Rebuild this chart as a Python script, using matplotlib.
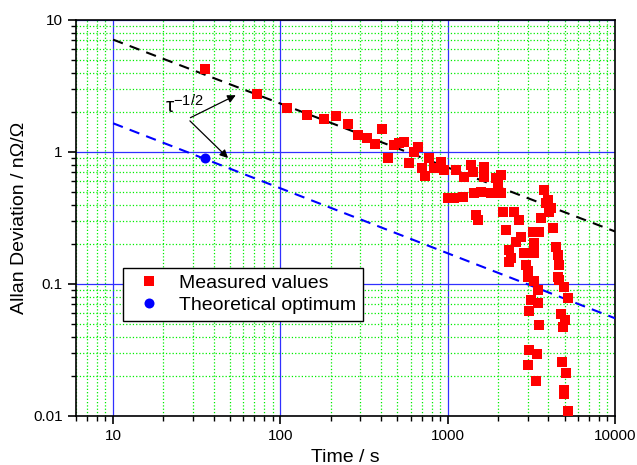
import matplotlib
matplotlib.use("Agg")
import matplotlib.pyplot as plt
from matplotlib.ticker import LogLocator, FuncFormatter, NullFormatter
import numpy as np

plt.rcParams['font.family'] = ['Liberation Sans', 'DejaVu Sans']

# measured Allan deviation (time in s, deviation in nOhm/Ohm)
meas_t = [35.6, 72.8, 110, 145, 181, 216, 255, 289, 327, 366, 403, 437, 475, 509, 546,
          584, 626, 661, 699, 728, 769, 824, 908, 946, 1117, 1247, 1374, 1413, 1644, 1644,
          1938, 1992, 2076, 1808, 1577, 1432, 1230, 1086, 1000, 1472, 1514, 2076, 2134, 2224,
          2484, 2662, 2737, 2317, 2553, 2384, 2317, 2931, 2851, 3274, 3228, 3508, 3274, 3605,
          3758, 3864, 4027, 4255, 4437, 3972, 4141, 4561, 4625, 4625, 3013, 3000, 3274, 3458,
          3141, 3458, 3055, 3508, 4954, 5234, 4753, 5023, 4888, 3055, 3411, 3013, 3365, 4818,
          5092, 4953, 4953, 5234, 4561]
meas_dev = [4.25, 2.75, 2.15, 1.91, 1.78, 1.87, 1.63, 1.35, 1.28, 1.15, 1.49, 0.90, 1.13, 1.17, 1.19,
            0.83, 1.00, 1.09, 0.76, 0.66, 0.90, 0.76, 0.84, 0.73, 0.73, 0.647, 0.80, 0.705, 0.77, 0.647,
            0.635, 0.58, 0.49, 0.49, 0.50, 0.49, 0.456, 0.45, 0.45, 0.334, 0.305, 0.67, 0.351, 0.256,
            0.351, 0.305, 0.227, 0.181, 0.208, 0.157, 0.147, 0.139, 0.172, 0.172, 0.248, 0.248, 0.204, 0.316,
            0.515, 0.41, 0.351, 0.266, 0.191, 0.433, 0.377, 0.166, 0.139, 0.107, 0.125, 0.113, 0.105, 0.090,
            0.076, 0.072, 0.062, 0.049, 0.095, 0.078, 0.059, 0.053, 0.047, 0.0316, 0.0295, 0.0243, 0.0184, 0.0257,
            0.0212, 0.0158, 0.0148, 0.011, 0.113]

# theoretical optimum
opt_t = [35.6]
opt_dev = [0.90]

# tau^-1/2 guide lines
ref_t = [10, 10000]
ref_black = [7.1, 0.25]
ref_blue = [1.65, 0.055]

fig = plt.figure(figsize=(6.37, 4.65), dpi=100)
ax = fig.add_axes([0.1193, 0.1054, 0.8462, 0.8516])
ax.set_xscale('log')
ax.set_yscale('log')
ax.set_xlim(6, 10000)
ax.set_ylim(0.01, 10)

ax.grid(True, which='major', color='#3030ff', linestyle='-', linewidth=0.9)
ax.grid(True, which='minor', color='#00ee00', linestyle=':', linewidth=0.9)
ax.set_axisbelow(True)

ax.plot(ref_t, ref_black, color='black', linestyle=(0, (5, 3.5)), linewidth=1.5, zorder=3)
ax.plot(ref_t, ref_blue, color='#0000ff', linestyle=(0, (5, 3.5)), linewidth=1.5, zorder=3)

ax.plot(meas_t, meas_dev, 's', color='#ff0000', markersize=7.2, markeredgewidth=0,
        label='Measured values', zorder=4)
ax.plot(opt_t, opt_dev, 'o', color='#0000ff', markersize=7.2, markeredgewidth=0,
        label='Theoretical optimum', zorder=4)

# annotation with two arrows
ax.text(20.3, 1.97, r'$\mathregular{\tau^{-1/2}}$', fontsize=15)
ax.annotate('', xy=(56, 2.75), xytext=(28, 1.78),
            arrowprops=dict(arrowstyle='-|>', color='black', linewidth=0.9, mutation_scale=12))
ax.annotate('', xy=(50, 0.87), xytext=(28, 1.78),
            arrowprops=dict(arrowstyle='-|>', color='black', linewidth=0.9, mutation_scale=12))

fmt = FuncFormatter(lambda v, p: '%g' % v)
ax.xaxis.set_major_formatter(fmt)
ax.yaxis.set_major_formatter(fmt)
ax.xaxis.set_minor_formatter(NullFormatter())
ax.yaxis.set_minor_formatter(NullFormatter())
ax.xaxis.set_minor_locator(LogLocator(base=10, subs=np.arange(2, 10), numticks=20))
ax.yaxis.set_minor_locator(LogLocator(base=10, subs=np.arange(2, 10), numticks=20))

ax.tick_params(which='major', direction='out', length=6, width=1.2, labelsize=11)
ax.tick_params(which='minor', direction='out', length=3.5, width=1.0)
for s in ax.spines.values():
    s.set_linewidth(1.2)

ax.set_xlabel('Time / s', fontsize=14)
ax.set_ylabel('Allan Deviation / nΩ/Ω', fontsize=14)

leg = ax.legend(loc='upper left', bbox_to_anchor=(0.087, 0.374), borderaxespad=0,
                fontsize=14, frameon=True, fancybox=False, edgecolor='black', framealpha=1,
                handlelength=2.0, handletextpad=0.55, borderpad=0.35, labelspacing=0.2)
leg.get_frame().set_linewidth(1.0)

fig.savefig('out.png', dpi=100)
